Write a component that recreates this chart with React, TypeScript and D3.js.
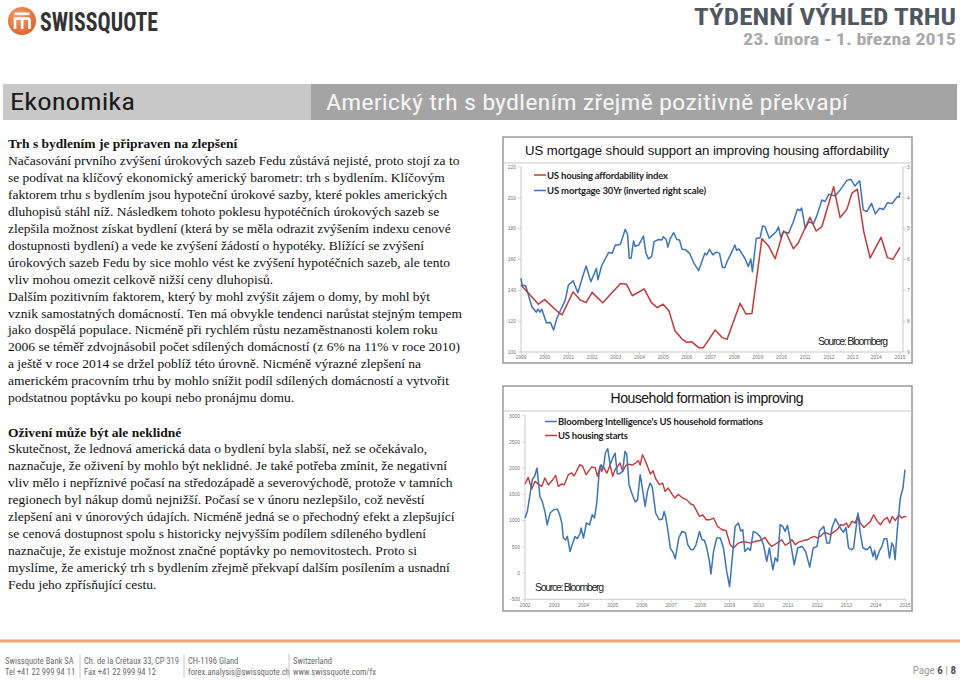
import React from "react";
import * as d3 from "d3";

// ---------- Chart 1 data ----------
const affordYears = [1999.0,1999.74,2000.0,2000.6,2000.73,2001.2,2001.5,2001.75,2002.0,2002.45,2003.2,2003.45,2003.7,2004.2,2004.5,2004.75,2005.0,2005.25,2005.5,2005.8,2006.0,2006.2,2006.5,2006.7,2007.2,2007.5,2007.7,2008.25,2008.5,2008.75,2009.17,2009.45,2009.73,2010.08,2010.2,2010.5,2010.7,2011.2,2011.46,2011.7,2012.2,2012.47,2012.75,2012.97,2013.2,2013.47,2013.74,2014.2,2014.47,2014.7,2015.0];
const affordIndex = [143.5,131,134,125.5,124,139,133.7,132,138.7,132,144.5,144,136.5,141,132.2,128.7,131,126.6,113.8,108.4,106.3,106.7,102.8,102.8,114.3,109.3,108.2,131.6,124.6,125,173.5,168.8,160.5,178.5,177,167,170.5,187.4,178.5,181.3,207.2,187.2,192.2,203,205.6,178,161,174.4,161.2,160.1,167.9];

const mortYears = [1999.0,1999.05,1999.2,1999.46,1999.65,1999.72,1999.8,1999.88,2000.07,2000.24,2000.38,2000.5,2000.66,2000.87,2001.0,2001.2,2001.4,2001.6,2001.75,2001.95,2002.18,2002.25,2002.4,2002.7,2002.85,2002.98,2003.1,2003.2,2003.4,2003.5,2003.57,2003.65,2003.75,2003.82,2003.96,2004.17,2004.27,2004.38,2004.52,2004.62,2004.8,2004.94,2005.01,2005.13,2005.2,2005.3,2005.44,2005.58,2005.69,2005.8,2005.94,2006.12,2006.3,2006.5,2006.66,2006.76,2006.84,2006.96,2007.1,2007.24,2007.38,2007.5,2007.6,2007.7,2007.84,2008.03,2008.1,2008.2,2008.45,2008.6,2008.7,2008.77,2008.93,2009.03,2009.1,2009.2,2009.3,2009.48,2009.63,2009.77,2009.87,2009.97,2010.08,2010.3,2010.5,2010.67,2010.78,2010.85,2011.0,2011.15,2011.35,2011.5,2011.7,2011.84,2012.0,2012.26,2012.47,2012.75,2012.93,2013.1,2013.25,2013.3,2013.45,2013.6,2013.8,2013.96,2014.14,2014.3,2014.47,2014.68,2014.78,2014.89,2014.96,2015.0];
const mortRate = [6.61,6.83,6.86,7.53,7.71,7.61,7.71,7.61,8.05,8.04,8.29,7.94,7.66,7.31,6.83,6.69,7.08,6.56,6.21,6.72,6.29,6.66,6.21,5.77,5.8,5.53,5.53,5.5,5.02,5.2,5.96,5.96,5.4,5.57,5.54,5.24,5.78,5.98,5.9,5.42,5.35,5.37,5.26,5.35,5.6,5.33,5.13,5.35,5.37,5.67,5.68,5.8,6.12,6.36,6.02,5.8,5.85,5.67,5.85,5.76,5.8,6.25,6.27,6.07,5.85,5.53,5.7,5.66,5.96,6.23,5.98,6.4,5.31,5.31,5.28,4.91,4.94,5.31,5.2,5.1,4.94,5.28,5.1,5.15,4.77,4.37,4.41,4.33,4.99,4.77,4.84,4.56,4.07,4.12,3.88,3.94,3.75,3.44,3.4,3.62,3.48,3.45,4.39,4.45,4.18,4.52,4.34,4.38,4.16,4.18,4.07,3.96,3.98,3.82];

const chart1YearTicks = d3.range(1999, 2016);
const chart1LeftTicks = [100, 120, 140, 160, 180, 200, 220];
const chart1RightTicks = [3, 4, 5, 6, 7, 8, 9];

// ---------- Chart 2 data ----------
const startsYears = [2002.0,2002.11,2002.23,2002.34,2002.45,2002.57,2002.68,2002.8,2002.95,2003.05,2003.14,2003.26,2003.34,2003.48,2003.6,2003.68,2003.79,2003.88,2003.97,2004.09,2004.17,2004.28,2004.4,2004.48,2004.57,2004.63,2004.68,2004.8,2004.91,2005.0,2005.08,2005.17,2005.25,2005.34,2005.45,2005.53,2005.68,2005.76,2005.88,2005.94,2006.02,2006.1,2006.19,2006.29,2006.38,2006.47,2006.6,2006.71,2006.79,2006.9,2007.04,2007.13,2007.24,2007.4,2007.53,2007.67,2007.76,2007.88,2007.97,2008.08,2008.2,2008.33,2008.45,2008.59,2008.73,2008.88,2009.02,2009.13,2009.3,2009.4,2009.58,2009.72,2009.87,2010.04,2010.21,2010.33,2010.44,2010.56,2010.67,2010.79,2010.9,2011.02,2011.13,2011.25,2011.36,2011.53,2011.67,2011.8,2011.9,2011.99,2012.1,2012.22,2012.33,2012.45,2012.56,2012.68,2012.8,2012.9,2012.99,2013.07,2013.19,2013.3,2013.39,2013.47,2013.59,2013.7,2013.82,2013.93,2014.05,2014.16,2014.28,2014.39,2014.48,2014.56,2014.67,2014.79,2014.88,2014.98,2015.05];
const housingStarts = [1698,1824,1603,1748,1700,1652,1812,1680,1780,1862,1652,1700,1680,1875,1908,1850,1971,2066,2037,1875,1940,2025,2007,1843,2044,1940,2025,1905,2060,1843,1970,2037,2099,1940,2050,2075,2060,2090,2143,2060,2257,2160,2034,1889,1950,1799,1685,1715,1557,1620,1494,1430,1500,1430,1400,1316,1300,1175,1080,1110,1017,1017,1049,889,830,807,540,477,572,591,591,572,603,620,679,572,508,550,591,635,530,572,635,540,591,620,635,679,698,670,698,763,763,730,780,826,921,910,954,870,990,954,1112,954,870,921,990,1112,990,921,1017,1061,954,1080,1000,1112,1049,1080,1070];

const hhYears = [2002.0,2002.08,2002.17,2002.25,2002.33,2002.41,2002.51,2002.59,2002.68,2002.76,2002.86,2002.98,2003.11,2003.18,2003.26,2003.31,2003.39,2003.45,2003.54,2003.63,2003.71,2003.79,2003.88,2003.92,2004.0,2004.1,2004.21,2004.3,2004.38,2004.46,2004.53,2004.6,2004.68,2004.75,2004.83,2004.91,2004.99,2005.08,2005.16,2005.25,2005.34,2005.42,2005.48,2005.56,2005.65,2005.77,2005.85,2005.94,2006.03,2006.11,2006.19,2006.28,2006.35,2006.41,2006.47,2006.59,2006.7,2006.76,2006.82,2006.91,2006.97,2007.06,2007.14,2007.26,2007.37,2007.49,2007.57,2007.67,2007.76,2007.85,2007.97,2008.05,2008.14,2008.22,2008.31,2008.36,2008.45,2008.56,2008.68,2008.79,2008.9,2009.0,2009.08,2009.19,2009.3,2009.38,2009.45,2009.52,2009.63,2009.71,2009.81,2009.93,2010.04,2010.16,2010.27,2010.36,2010.48,2010.56,2010.64,2010.73,2010.82,2010.9,2010.98,2011.07,2011.21,2011.33,2011.48,2011.6,2011.74,2011.86,2011.99,2012.08,2012.22,2012.33,2012.42,2012.5,2012.62,2012.7,2012.82,2012.9,2012.98,2013.07,2013.18,2013.24,2013.39,2013.47,2013.56,2013.7,2013.81,2013.91,2013.96,2014.02,2014.13,2014.21,2014.29,2014.38,2014.47,2014.55,2014.61,2014.66,2014.74,2014.84,2014.93,2015.0];
const hhFormations = [1049,1174,1494,1780,1845,2003,1462,1367,1175,921,1145,1206,1219,1120,954,668,630,700,412,570,698,656,750,859,668,954,920,1112,1050,1367,1875,2066,2000,2289,2371,2066,2180,2289,1889,1900,1940,2320,2270,1685,1526,1355,1400,1875,1560,1271,1557,1717,1650,1400,1145,1017,1030,1175,1050,730,477,400,273,668,794,770,540,450,445,540,794,640,620,477,222,-19,412,668,668,477,31,-256,221,889,954,800,830,412,477,430,794,760,700,540,221,477,63,290,221,921,890,794,910,630,159,477,510,412,114,477,510,807,889,572,572,859,1036,954,830,780,870,477,445,477,1145,760,477,445,510,317,430,254,430,510,654,654,286,572,510,254,850,1431,1622,1971];

const chart2YearTicks = d3.range(2002, 2016);
const chart2LeftTicks = [-500, 0, 500, 1000, 1500, 2000, 2500, 3000];

// ---------- Text ----------
const section1Title = "Trh s bydlením je připraven na zlepšení";
const section1Lines = [
  "Načasování prvního zvýšení úrokových sazeb Fedu zůstává nejisté, proto stojí za to",
  "se podívat na klíčový ekonomický americký barometr: trh s bydlením. Klíčovým",
  "faktorem trhu s bydlením jsou hypoteční úrokové sazby, které pokles amerických",
  "dluhopisů stáhl níž. Následkem tohoto poklesu hypotéčních úrokových sazeb se",
  "zlepšila možnost získat bydlení (která by se měla odrazit zvýšením indexu cenové",
  "dostupnosti bydlení) a vede ke zvýšení žádostí o hypotéky. Blížící se zvýšení",
  "úrokových sazeb Fedu by sice mohlo vést ke zvýšení hypotéčních sazeb, ale tento",
  "vliv mohou omezit celkově nižší ceny dluhopisů.",
  "Dalším pozitivním faktorem, který by mohl zvýšit zájem o domy, by mohl být",
  "vznik samostatných domácností. Ten má obvykle tendenci narůstat stejným tempem",
  "jako dospělá populace. Nicméně při rychlém růstu nezaměstnanosti kolem roku",
  "2006 se téměř zdvojnásobil počet sdílených domácností (z 6% na 11% v roce 2010)",
  "a ještě v roce 2014 se držel poblíž této úrovně. Nicméně výrazné zlepšení na",
  "americkém pracovním trhu by mohlo snížit podíl sdílených domácností a vytvořit",
  "podstatnou poptávku po koupi nebo pronájmu domu.",
];
const section2Title = "Oživení může být ale neklidné";
const section2Lines = [
  "Skutečnost, že lednová americká data o bydlení byla slabší, než se očekávalo,",
  "naznačuje, že oživení by mohlo být neklidné. Je také potřeba zmínit, že negativní",
  "vliv mělo i nepříznivé počasí na středozápadě a severovýchodě, protože v tamních",
  "regionech byl nákup domů nejnižší. Počasí se v únoru nezlepšilo, což nevěstí",
  "zlepšení ani v únorových údajích. Nicméně jedná se o přechodný efekt a zlepšující",
  "se cenová dostupnost spolu s historicky nejvyšším podílem sdíleného bydlení",
  "naznačuje, že existuje možnost značné poptávky po nemovitostech. Proto si",
  "myslíme, že americký trh s bydlením zřejmě překvapí dalším posílením a usnadní",
  "Fedu jeho zpřísňující cestu.",
];
const footerCols = [
  ["Swissquote Bank SA", "Tel +41 22 999 94 11"],
  ["Ch. de la Crétaux 33, CP 319", "Fax +41 22 999 94 12"],
  ["CH-1196 Gland", "forex.analysis@swissquote.ch"],
  ["Switzerland", "www.swissquote.com/fx"],
];

const RED = "#c0393b";
const BLUE = "#3d74b5";
const SERIF = "'Liberation Serif','Times New Roman',serif";
const SANS = "'Liberation Sans',Arial,sans-serif";
const NARROW = "'Liberation Sans Narrow','Roboto Condensed','Liberation Sans',sans-serif";
const LEG = "Lato,'Open Sans',sans-serif";

function Chart1() {
  const x = d3.scaleLinear().domain([1999, 2015]).range([521, 900]);
  const yL = d3.scaleLinear().domain([100, 220]).range([352, 167]);
  const yR = d3.scaleLinear().domain([3, 9]).range([167, 352]);
  const redLine = d3.line<number>().x((_, i) => x(affordYears[i])).y((d) => yL(d));
  const blueLine = d3.line<number>().x((_, i) => x(mortYears[i])).y((d) => yR(d));
  return (
    <g>
      <rect x={503} y={137} width={409} height={226} fill="#fff" stroke="#9a9a9a" strokeWidth={1.5} />
      <line x1={503} x2={912} y1={163} y2={163} stroke="#c8c8c8" strokeWidth={1} />
      <text x={707} y={155} textAnchor="middle" fontFamily={SANS} fontSize={13.2} fill="#111" textLength={364}>
        US mortgage should support an improving housing affordability
      </text>
      <line x1={521} x2={521} y1={167} y2={352} stroke="#bbb" strokeWidth={0.8} />
      <line x1={903} x2={903} y1={167} y2={352} stroke="#bbb" strokeWidth={0.8} />
      <line x1={521} x2={903} y1={352} y2={352} stroke="#bbb" strokeWidth={0.8} />
      {chart1LeftTicks.map((t) => (
        <g key={"l" + t}>
          <line x1={518} x2={521} y1={yL(t)} y2={yL(t)} stroke="#bbb" strokeWidth={0.6} />
          <text x={516} y={yL(t) + 1.8} textAnchor="end" fontFamily={SANS} fontSize={5} fill="#777">{t}</text>
        </g>
      ))}
      {chart1RightTicks.map((t) => (
        <g key={"r" + t}>
          <line x1={903} x2={906} y1={yR(t)} y2={yR(t)} stroke="#bbb" strokeWidth={0.6} />
          <text x={907} y={yR(t) + 1.8} fontFamily={SANS} fontSize={5} fill="#777">{t}</text>
        </g>
      ))}
      {chart1YearTicks.map((t) => (
        <g key={"x" + t}>
          <line x1={x(t)} x2={x(t)} y1={352} y2={355} stroke="#bbb" strokeWidth={0.6} />
          <text x={x(t)} y={359} textAnchor="middle" fontFamily={SANS} fontSize={5} fill="#777">{t}</text>
        </g>
      ))}
      <path d={blueLine(mortRate) || ""} fill="none" stroke={BLUE} strokeWidth={1.5} strokeLinejoin="round" />
      <path d={redLine(affordIndex) || ""} fill="none" stroke={RED} strokeWidth={1.5} strokeLinejoin="round" />
      <line x1={534} x2={546} y1={175} y2={175} stroke={RED} strokeWidth={1.5} />
      <text x={547} y={178.5} fontFamily={LEG} fontWeight={700} fontSize={9.5} fill="#222" textLength={121}>US housing affordability index</text>
      <line x1={534} x2={546} y1={190.5} y2={190.5} stroke={BLUE} strokeWidth={1.5} />
      <text x={547} y={194} fontFamily={LEG} fontWeight={700} fontSize={9.5} fill="#222" textLength={159}>US mortgage 30Yr (inverted right scale)</text>
      <text x={818} y={345} fontFamily={SANS} fontSize={10.5} fill="#222" textLength={70}>Source: Bloomberg</text>
    </g>
  );
}

function Chart2() {
  const x = d3.scaleLinear().domain([2002, 2015]).range([525, 905]);
  const y = d3.scaleLinear().domain([-500, 3000]).range([599.3, 415.7]);
  const redLine = d3.line<number>().x((_, i) => x(startsYears[i])).y((d) => y(d));
  const blueLine = d3.line<number>().x((_, i) => x(hhYears[i])).y((d) => y(d));
  return (
    <g>
      <rect x={503} y={386} width={409} height={225} fill="#fff" stroke="#9a9a9a" strokeWidth={1.5} />
      <line x1={503} x2={912} y1={411} y2={411} stroke="#c8c8c8" strokeWidth={1} />
      <text x={707} y={403} textAnchor="middle" fontFamily={SANS} fontSize={14} fill="#111" textLength={193}>
        Household formation is improving
      </text>
      <line x1={525} x2={525} y1={415.7} y2={599.3} stroke="#bbb" strokeWidth={0.8} />
      <line x1={525} x2={906} y1={599.3} y2={599.3} stroke="#bbb" strokeWidth={0.8} />
      {chart2LeftTicks.map((t) => (
        <g key={"l" + t}>
          <line x1={522} x2={525} y1={y(t)} y2={y(t)} stroke="#bbb" strokeWidth={0.6} />
          <text x={520} y={y(t) + 1.8} textAnchor="end" fontFamily={SANS} fontSize={5} fill="#777">{t}</text>
        </g>
      ))}
      {chart2YearTicks.map((t) => (
        <g key={"x" + t}>
          <line x1={x(t)} x2={x(t)} y1={599.3} y2={602.3} stroke="#bbb" strokeWidth={0.6} />
          <text x={x(t)} y={607} textAnchor="middle" fontFamily={SANS} fontSize={5} fill="#777">{t}</text>
        </g>
      ))}
      <path d={redLine(housingStarts) || ""} fill="none" stroke={RED} strokeWidth={1.4} strokeLinejoin="round" />
      <path d={blueLine(hhFormations) || ""} fill="none" stroke={BLUE} strokeWidth={1.5} strokeLinejoin="round" />
      <line x1={545} x2={557} y1={421.5} y2={421.5} stroke={BLUE} strokeWidth={1.5} />
      <text x={558} y={425} fontFamily={LEG} fontWeight={700} fontSize={9.5} fill="#222" textLength={205}>Bloomberg Intelligence's US household formations</text>
      <line x1={545} x2={557} y1={435.5} y2={435.5} stroke={RED} strokeWidth={1.5} />
      <text x={558} y={439} fontFamily={LEG} fontWeight={700} fontSize={9.5} fill="#222" textLength={70}>US housing starts</text>
      <text x={535} y={590.5} fontFamily={SANS} fontSize={10.5} fill="#222" textLength={69}>Source: Bloomberg</text>
    </g>
  );
}

export default function App() {
  const lh = 16.95;
  const fs = 13.5;
  return (
    <svg width={960} height={681} viewBox="0 0 960 681" style={{ position: "absolute", left: 0, top: 0, background: "#fff" }}>
      <rect x={0} y={0} width={960} height={681} fill="#fff" />
      {/* Logo */}
      <defs>
        <radialGradient id="lg" cx="40%" cy="35%" r="70%">
          <stop offset="0%" stopColor="#f6a070" />
          <stop offset="100%" stopColor="#d9622a" />
        </radialGradient>
      </defs>
      <circle cx={22} cy={21} r={14} fill="url(#lg)" />
      <rect x={14.5} y={12.5} width={15} height={2.6} fill="#fff" />
      <path d="M15 29 V18.5 H27.5 Q29.5 18.5 29.5 20.5 V29 M22.2 18.5 V29" fill="none" stroke="#fff" strokeWidth={2.6} />
      <text x={40} y={31} fontFamily={NARROW} fontWeight={700} fontSize={26} fill="#333" textLength={118} lengthAdjust="spacingAndGlyphs">SWISSQUOTE</text>
      {/* Header titles */}
      <text x={956} y={25} textAnchor="end" fontFamily={NARROW} fontWeight={700} fontSize={23} fill="#4f5861" textLength={262} lengthAdjust="spacingAndGlyphs">TÝDENNÍ VÝHLED TRHU</text>
      <text x={956} y={44.5} textAnchor="end" fontFamily={NARROW} fontWeight={700} fontSize={16} fill="#a9a9a9" textLength={213} lengthAdjust="spacingAndGlyphs">23. února - 1. března 2015</text>
      {/* Section bar */}
      <rect x={3} y={84} width={308} height={36} fill="#c8c8c8" />
      <rect x={311} y={84} width={646} height={36} fill="#a4a4a4" />
      <text x={10} y={109.5} fontFamily={NARROW} fontSize={23} fill="#1a1a1a" textLength={125} lengthAdjust="spacingAndGlyphs">Ekonomika</text>
      <text x={326} y={109.5} fontFamily={NARROW} fontSize={22} fill="#f4f4f4" textLength={522} lengthAdjust="spacingAndGlyphs">Americký trh s bydlením zřejmě pozitivně překvapí</text>
      {/* Body text */}
      <text x={8} y={148} fontFamily={SERIF} fontWeight={700} fontSize={fs} fill="#111">{section1Title}</text>
      {section1Lines.map((l, i) => (
        <text key={"a" + i} x={8} y={148 + lh * (i + 1)} fontFamily={SERIF} fontSize={fs} fill="#111">{l}</text>
      ))}
      <text x={8} y={436.5} fontFamily={SERIF} fontWeight={700} fontSize={fs} fill="#111">{section2Title}</text>
      {section2Lines.map((l, i) => (
        <text key={"b" + i} x={8} y={436.5 + 16.95 * (i + 1)} fontFamily={SERIF} fontSize={fs} fill="#111">{l}</text>
      ))}
      <Chart1 />
      <Chart2 />
      {/* Footer */}
      <rect x={0} y={639.5} width={960} height={3} fill="#f2a673" />
      {footerCols.map((c, i) => {
        const xs = [5, 84, 188, 293][i];
        return (
          <g key={"f" + i}>
            {i > 0 && <line x1={xs - 4} x2={xs - 4} y1={654} y2={678} stroke="#c8c8c8" strokeWidth={1} />}
            <text x={xs} y={664} fontFamily={NARROW} fontSize={8.5} fill="#6a6a6a">{c[0]}</text>
            <text x={xs} y={675} fontFamily={NARROW} fontSize={8.5} fill="#6a6a6a">{c[1]}</text>
          </g>
        );
      })}
      <text x={956} y={674} textAnchor="end" fontFamily={NARROW} fontSize={11} fill="#9a9a9a">
        Page <tspan fill="#555" fontWeight={700}>6</tspan> | <tspan fill="#555" fontWeight={700}>8</tspan>
      </text>
    </svg>
  );
}
